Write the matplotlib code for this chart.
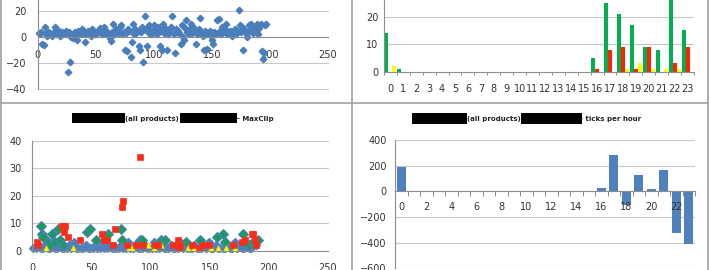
import matplotlib
matplotlib.use("Agg")
import matplotlib.pyplot as plt
from matplotlib.patches import Rectangle
from matplotlib.lines import Line2D

# ---- data ----
# top left: one blue diamond per index
tl_y = [3, 2, 4, -5, -6, 8, 3, 1, 4, 2,
        3, 1, 2, 4, 8, 3, 2, 5, 1, 3,
        4, 2, 3, 5, 2, -27, 4, -19, 0, -1,
        3, 4, 1, -2, 5, 3, 2, 6, 4, 3,
        -4, 2, 5, 3, 4, 1, 6, 3, 2, 4,
        3, 5, 4, 7, 2, 6, 8, 3, 5, 4,
        1, -1, -3, 4, 10, 2, 6, 5, 3, 4,
        8, 9, 2, 4, -10, 3, -11, 6, 5, -15,
        -4, 10, 2, 6, 3, 5, -7, -10, 4, 8,
        -19, 16, 6, -7, 4, 9, 2, 5, 3, 9,
        6, 4, 2, 8, -7, 5, -10, 10, 3, 7,
        -10, 2, 5, 4, 8, 16, 2, -12, 6, 4,
        5, 3, -5, 9, 0, -2, 7, 13, 4, 2,
        6, 10, 3, 8, 5, -5, 2, 4, 6, 15,
        3, 1, -10, 5, 2, -9, 3, 5, 1, -2,
        -5, 4, 2, 13, 3, 14, 5, 2, 8, 4,
        6, 10, 2, 3, 4, 5, 1, 3, 4, 6,
        2, 5, 21, 9, 4, 8, -10, 6, 3, 0,
        4, 9, 5, 10, 3, 6, 8, 4, 10, 2,
        7, 10, -11, -17, -12, 9, 10]
tl_x = list(range(1, len(tl_y) + 1))

# top right: counts per hour, three series
hours = list(range(24))
green_cnt = [14, 1, 0, 0, 0, 0, 0, 0, 0, 0, 0, 0, 0, 0, 0, 0, 5, 25, 21, 17, 9, 8, 28, 15]
red_cnt = [0, 0, 0, 0, 0, 0, 0, 0, 0, 0, 0, 0, 0, 0, 0, 0, 1, 8, 9, 1, 9, 0, 3, 9]
yellow_cnt = [2, 0, 0, 0, 0, 0, 0, 0, 0, 0, 0, 0, 0, 0, 0, 0, 0, 0, 1, 3, 1, 1, 1, 0]

# bottom left: MaxClip
blue_y = [1, 1, 2, 1, 1, 2, 1, 1, 3, 1, 1, 2, 1, 1, 1, 2, 1, 3, 1, 1,
          1, 1, 2, 1, 1, 1, 2, 1, 1, 3, 1, 1, 2, 1, 1, 1, 1, 2, 1, 1,
          3, 1, 1, 2, 1, 1, 1, 2, 1, 1, 1, 3, 1, 1, 2, 1, 1, 1, 2, 1,
          1, 1, 3, 1, 2, 1, 1, 1, 2, 1, 1, 1, 2, 1, 3, 1, 1, 2, 1, 1,
          1, 1, 2, 1, 1, 3, 1, 2, 1, 1, 2, 1, 1, 3, 2]
blue_x = list(range(1, 2 * len(blue_y), 2))
green_x = [7, 8, 9, 13, 15, 17, 19, 22, 23, 26, 46, 49, 54, 64, 75, 76, 91, 93,
           109, 112, 130, 142, 156, 161, 163, 178, 183, 187, 191]
green_y = [9, 6, 5, 3, 2, 6, 3, 8, 4, 2, 7, 8, 4, 6, 8, 4, 4, 4,
           4, 4, 3, 4, 5, 6, 3, 6, 2, 3, 4]
red_x = [4, 5, 25, 26, 27, 28, 30, 40, 59, 61, 63, 68, 70, 76, 77, 80, 88, 91,
         94, 104, 106, 119, 123, 124, 125, 135, 141, 144, 149, 170, 177, 180,
         186, 187, 188, 189]
red_y = [3, 2, 9, 9, 7, 9, 5, 4, 6, 4, 4, 2, 8, 16, 18, 2, 2, 34,
         2, 2, 2, 2, 4, 1, 2, 2, 1, 2, 2, 2, 3, 4,
         6, 6, 4, 2]
yel_x = [12, 34, 82, 84, 98, 103, 109, 132, 137, 151, 157, 164, 171]
yel_y = [1, 1, 1, 1, 2, 1, 2, 1, 1, 1, 1, 1, 1]

# bottom right: ticks per hour
ticks_hour = [190, 5, 0, 0, 0, 0, 0, 0, 0, 0, 0, 0, 0, 0, 0, 0,
              25, 285, -110, 125, 15, 170, -325, -410]

W, H = 710, 270
GRID = "#c8c8c8"
AXC = "#8c8c8c"
TXT = "#333333"
FS = 7


def box(x0, y0, x1, y1):
    # pixel box (y down) -> figure fraction rect
    return [x0 / W, 1 - y1 / H, (x1 - x0) / W, (y1 - y0) / H]


def style(ax, grid_at, ypad, xpad):
    for s in ax.spines.values():
        s.set_visible(False)
    for side in ("left", "bottom"):
        ax.spines[side].set_visible(True)
        ax.spines[side].set_color(AXC)
        ax.spines[side].set_linewidth(0.8)
    # gridlines drawn under the marks, axis + labels stay on top
    for g in grid_at:
        ax.axhline(g, color=GRID, lw=0.8, zorder=0.5)
    ax.tick_params(axis="y", length=0, pad=ypad, labelsize=FS, labelcolor=TXT)
    ax.tick_params(axis="x", which="major", length=0, pad=xpad, labelsize=FS, labelcolor=TXT)
    ax.patch.set_alpha(0)


fig = plt.figure(figsize=(W / 100, H / 100), dpi=100)

# top left scatter
ax1 = fig.add_axes(box(37.7, -15, 328, 89))
ax1.plot(tl_x, tl_y, "D", ms=3.3, color="#4a7ebb", mec="#4a7ebb")
ax1.set_xlim(0, 250)
ax1.set_ylim(-40, 40)
ax1.set_yticks([-40, -20, 0, 20])
ax1.set_xticks([0, 50, 100, 150, 200, 250])
style(ax1, [-40, -20, 20, 40], 7.9, 9)
ax1.spines["bottom"].set_position(("data", 0))

# top right bars
ax2 = fig.add_axes(box(384, -10.8, 694, 71.7))
bw = 0.31
ax2.bar([h - bw for h in hours], green_cnt, bw, color="#00b050")
ax2.bar(hours, red_cnt, bw, color="#ff2200")
ax2.bar([h + bw for h in hours], yellow_cnt, bw, color="#ffff00")
ax2.set_xlim(-0.5, 23.5)
ax2.set_ylim(0, 30)
ax2.set_yticks([0, 10, 20])
ax2.set_xticks(hours)
ax2.set_xticklabels([str(h) for h in hours])
ax2.set_xticks([h - 0.5 for h in hours] + [23.5], minor=True)
style(ax2, [10, 20, 30], 4.1, 8.5)
ax2.tick_params(axis="x", which="minor", length=2.5, color=AXC, width=0.7)

# bottom left scatter
ax3 = fig.add_axes(box(32.3, 141, 328, 250.7))
ax3.plot(blue_x, blue_y, "D", ms=4.3, color="#4f81bd", mec="#4f81bd")
ax3.plot(green_x, green_y, "D", ms=4.6, color="#1a9b5c", mec="#4f81bd", mew=0.8)
ax3.plot(yel_x, yel_y, "^", ms=5, color="#ffff00", mec="#d6cf00", mew=0.5)
ax3.plot(red_x, red_y, "s", ms=4.4, color="#ff2a1a", mec="#e8381c", mew=0.5)
ax3.set_xlim(0, 250)
ax3.set_ylim(0, 40)
ax3.set_yticks([0, 10, 20, 30, 40])
ax3.set_xticks([0, 50, 100, 150, 200, 250])
style(ax3, [10, 20, 30, 40], 7.6, 8.6)
for a in (ax1, ax3):
    for t in a.lines:
        t.set_clip_on(False)

# bottom right bars
ax4 = fig.add_axes(box(395, 140, 695, 268.3))
ax4.bar(hours, ticks_hour, 0.75, color="#4f81bd", zorder=1)
ax4.set_xlim(-0.5, 23.5)
ax4.set_ylim(-600, 400)
ax4.set_yticks([-600, -400, -200, 0, 200, 400])
ax4.set_xticks(hours[::2])
ax4.set_xticks([h - 0.5 for h in hours] + [23.5], minor=True)
style(ax4, [-600, -400, -200, 200, 400], 6, 7.5)
ax4.tick_params(axis="x", which="minor", length=3.5, color=AXC, width=0.7)
ax4.spines["bottom"].set_position(("data", 0))


# redacted titles
def black(x0, x1, y0, y1):
    fig.add_artist(Rectangle((x0 / W, 1 - y1 / H), (x1 - x0) / W, (y1 - y0) / H,
                             transform=fig.transFigure, color="black", lw=0))


def ttl(x, s):
    fig.text(x / W, 1 - 118.5 / H, s, ha="left", va="center", fontsize=5,
             fontweight="bold", color="#222222")


black(71.7, 125, 113.3, 123.3)
ttl(125, "(all products)")
black(180, 236.7, 113.3, 123.3)
ttl(236.7, "- MaxClip")

black(412.3, 466.7, 113.3, 124)
ttl(466.7, "(all products)")
black(520.7, 581.7, 113.3, 124)
ttl(580, "- ticks per hour")

# panel borders
BC = "#a0a0a0"
fig.add_artist(Line2D([351.7 / W] * 2, [0, 1], transform=fig.transFigure, color=BC, lw=1.2))
fig.add_artist(Line2D([1 / W, 707.5 / W], [1 - 102.7 / H] * 2, transform=fig.transFigure, color=BC, lw=1.2))
fig.add_artist(Line2D([1 / W] * 2, [0, 1], transform=fig.transFigure, color=BC, lw=1.2))
fig.add_artist(Line2D([707.5 / W] * 2, [0, 1], transform=fig.transFigure, color=BC, lw=1.2))

fig.savefig("out.png", dpi=100)
